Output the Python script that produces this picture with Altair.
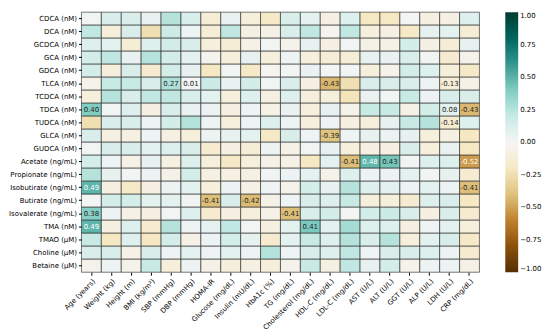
import altair as alt
import pandas as pd

rows = ["CDCA (nM)", "DCA (nM)", "GCDCA (nM)", "GCA (nM)", "GDCA (nM)", "TLCA (nM)",
        "TCDCA (nM)", "TDCA (nM)", "TUDCA (nM)", "GLCA (nM)", "GUDCA (nM)",
        "Acetate (ng/mL)", "Propionate (ng/mL)", "Isobutirate (ng/mL)", "Butirate (ng/mL)",
        "Isovalerate (ng/mL)", "TMA (nM)", "TMAO (μM)", "Choline (μM)", "Betaine (μM)"]
cols = ["Age (years)", "Weight (kg)", "Height (m)", "BMI (kg/m²)", "SBP (mmHg)", "DBP (mmHg)",
        "HOMA-IR", "Glucose (mg/dL)", "Insulin (mU/dL)", "HbA1c (%)", "TG (mg/dL)",
        "Cholesterol (mg/dL)", "HDL-C (mg/dL)", "LDL-C (mg/dL)", "AST (U/L)", "ALT (U/L)",
        "GGT (U/L)", "ALP (U/L)", "LDH (U/L)", "CRP (mg/dL)"]

cdca = [0.02, 0.12, 0.12, 0.05, 0.25, 0.12, -0.12, 0.05, -0.10, -0.18, 0.12, 0.07, -0.08, 0.10, -0.20, -0.20, 0.01, -0.08, -0.08, 0.10]
dca = [0.22, -0.10, 0.12, -0.25, 0.18, 0.03, -0.12, 0.22, -0.08, -0.06, 0.12, 0.22, -0.03, 0.22, -0.10, -0.08, -0.18, 0.06, 0.08, -0.12]
gcdca = [0.10, 0.08, -0.12, 0.10, 0.15, 0.12, -0.10, -0.12, -0.06, 0.02, -0.05, 0.06, -0.08, 0.02, -0.06, -0.06, 0.15, -0.07, -0.12, 0.06]
gca = [0.15, 0.22, 0.05, 0.25, 0.15, 0.08, -0.03, -0.10, 0.06, -0.10, 0.03, -0.10, -0.12, -0.12, 0.06, 0.05, 0.12, 0.02, -0.15, -0.05]
gdca = [0.15, -0.10, 0.12, -0.15, 0.15, 0.06, -0.20, 0.02, -0.18, -0.02, 0.02, 0.05, 0.02, 0.02, -0.10, -0.05, 0.15, 0.10, -0.10, -0.18]
tlca = [-0.05, 0.20, 0.20, 0.12, 0.27, 0.01, 0.18, 0.05, 0.15, 0.02, 0.12, -0.08, -0.43, -0.25, 0.12, 0.12, 0.12, 0.04, -0.13, -0.06]
tcdca = [-0.10, 0.25, 0.12, 0.22, 0.22, 0.12, 0.08, -0.10, 0.10, -0.08, 0.10, -0.10, -0.10, -0.22, 0.05, 0.02, 0.20, 0.04, 0.12, 0.12]
tdca = [0.40, 0.02, 0.10, -0.08, 0.12, 0.05, 0.04, -0.08, 0.03, -0.06, 0.05, -0.10, 0.06, -0.05, 0.20, 0.20, -0.06, 0.15, 0.08, -0.43]
tudca = [-0.25, 0.12, 0.12, 0.04, 0.15, 0.25, 0.03, -0.10, 0.03, 0.10, 0.03, -0.10, 0.03, -0.08, -0.10, 0.06, 0.20, 0.25, -0.14, 0.10]
glca = [0.12, -0.08, -0.08, 0.03, -0.08, -0.10, 0.04, 0.06, 0.08, -0.18, 0.12, 0.03, -0.39, 0.03, 0.06, 0.04, 0.06, -0.10, -0.08, -0.20]
gudca = [0.02, 0.12, 0.12, 0.08, 0.10, 0.12, -0.15, -0.08, -0.12, 0.04, -0.06, 0.02, 0.06, -0.10, -0.08, -0.08, 0.12, -0.10, 0.05, -0.20]
acetate = [0.15, 0.03, -0.06, 0.06, -0.08, 0.10, -0.10, -0.18, -0.10, -0.06, -0.06, -0.20, 0.08, -0.41, 0.48, 0.43, 0.02, 0.10, 0.10, -0.52]
propionate = [0.25, 0.06, 0.02, 0.04, -0.06, 0.15, -0.08, -0.08, -0.08, 0.02, 0.04, 0.08, -0.05, 0.10, 0.04, 0.04, 0.08, 0.02, 0.06, -0.15]
isobutirate = [0.49, -0.08, -0.18, -0.08, 0.04, 0.08, -0.10, 0.04, -0.06, 0.03, -0.05, 0.15, 0.06, 0.25, 0.10, 0.08, 0.04, 0.08, 0.04, -0.41]
butirate = [0.01, 0.15, 0.15, 0.08, 0.08, 0.02, -0.41, 0.12, -0.42, -0.06, 0.03, 0.12, 0.10, 0.20, -0.10, -0.10, -0.15, 0.10, 0.12, -0.20]
isovalerate = [0.38, 0.04, -0.06, -0.08, 0.02, 0.10, -0.15, -0.08, -0.10, -0.06, -0.41, 0.12, 0.15, 0.01, 0.15, 0.18, 0.12, -0.08, 0.12, -0.15]
tma = [0.49, -0.08, 0.10, -0.15, 0.25, 0.03, 0.06, 0.22, 0.02, -0.08, 0.08, 0.41, 0.08, 0.30, 0.10, 0.10, -0.08, 0.03, 0.08, -0.10]
tmao = [0.20, -0.20, 0.10, -0.20, 0.15, -0.06, 0.04, 0.15, 0.06, -0.15, 0.08, 0.20, 0.10, 0.25, 0.12, 0.25, -0.10, 0.08, 0.12, -0.18]
choline = [0.12, 0.12, -0.06, 0.12, 0.03, 0.08, 0.03, 0.08, 0.03, 0.25, 0.03, 0.12, 0.10, 0.22, 0.03, 0.12, 0.12, 0.10, 0.04, -0.15]
betaine = [-0.04, 0.04, -0.05, 0.20, -0.10, 0.04, -0.06, -0.10, -0.08, -0.10, -0.04, 0.20, -0.08, 0.22, 0.06, 0.15, -0.05, 0.04, 0.04, -0.06]

matrix = [cdca, dca, gcdca, gca, gdca, tlca, tcdca, tdca, tudca, glca, gudca,
          acetate, propionate, isobutirate, butirate, isovalerate, tma, tmao, choline, betaine]

# annotated (significant) cells: (row, column, text)
annotations = [
    ("TLCA (nM)", "SBP (mmHg)", "0.27"), ("TLCA (nM)", "DBP (mmHg)", "0.01"),
    ("TLCA (nM)", "HDL-C (mg/dL)", "-0.43"), ("TLCA (nM)", "LDH (U/L)", "-0.13"),
    ("TDCA (nM)", "Age (years)", "0.40"), ("TDCA (nM)", "LDH (U/L)", "0.08"),
    ("TDCA (nM)", "CRP (mg/dL)", "-0.43"), ("TUDCA (nM)", "LDH (U/L)", "-0.14"),
    ("GLCA (nM)", "HDL-C (mg/dL)", "-0.39"),
    ("Acetate (ng/mL)", "LDL-C (mg/dL)", "-0.41"), ("Acetate (ng/mL)", "AST (U/L)", "0.48"),
    ("Acetate (ng/mL)", "ALT (U/L)", "0.43"), ("Acetate (ng/mL)", "CRP (mg/dL)", "-0.52"),
    ("Isobutirate (ng/mL)", "Age (years)", "0.49"), ("Isobutirate (ng/mL)", "CRP (mg/dL)", "-0.41"),
    ("Butirate (ng/mL)", "HOMA-IR", "-0.41"), ("Butirate (ng/mL)", "Insulin (mU/dL)", "-0.42"),
    ("Isovalerate (ng/mL)", "Age (years)", "0.38"), ("Isovalerate (ng/mL)", "TG (mg/dL)", "-0.41"),
    ("TMA (nM)", "Age (years)", "0.49"), ("TMA (nM)", "Cholesterol (mg/dL)", "0.41"),
]
ann = {(r, c): t for r, c, t in annotations}

# BrBG colour stops (as in matplotlib), spread evenly over -1..1
brbg = ["#543005", "#8c510a", "#bf812d", "#dfc27d", "#f6e8c3", "#f5f5f5",
        "#c7eae5", "#80cdc1", "#35978f", "#01665e", "#003c30"]
stops = [-1.0, -0.8, -0.6, -0.4, -0.2, 0.0, 0.2, 0.4, 0.6, 0.8, 1.0]

records = []
for rname, vals in zip(rows, matrix):
    for cname, v in zip(cols, vals):
        records.append({"row": rname, "col": cname, "r": v, "label": ann.get((rname, cname), "")})
df = pd.DataFrame(records)

base = alt.Chart(df).encode(
    x=alt.X("col:N", sort=cols, title=None,
            axis=alt.Axis(labelAngle=-45, labelAlign="right", labelBaseline="top",
                          labelFontSize=7, tickSize=3, domain=False, labelPadding=2,
                          labelColor="#000", tickColor="#000")),
    y=alt.Y("row:N", sort=rows, title=None,
            axis=alt.Axis(labelFontSize=7, tickSize=3, domain=False, labelPadding=2,
                          labelColor="#000", tickColor="#000")),
)

heat = base.mark_rect(stroke="#222222", strokeWidth=0.6).encode(
    color=alt.Color("r:Q",
                    scale=alt.Scale(domain=stops, range=brbg, interpolate="rgb"),
                    legend=alt.Legend(title=None, gradientLength=262, gradientThickness=13,
                                      values=[-1, -0.75, -0.5, -0.25, 0, 0.25, 0.5, 0.75, 1],
                                      format=".2f", labelFontSize=7, offset=26,
                                      direction="vertical", labelColor="#000",
                                      labelFont="DejaVu Sans"))
)

text = base.mark_text(fontSize=7, font="DejaVu Sans").encode(
    text="label:N",
    color=alt.condition("abs(datum.r) >= 0.45", alt.value("white"), alt.value("#262626")),
)

chart = (heat + text).properties(
    width=401, height=262,
    padding={"left": 0, "top": 2, "right": 0, "bottom": 0},
).configure_view(stroke=None).configure_axis(labelFont="DejaVu Sans", grid=False)

chart.save("out.html", embed_options={"renderer": "svg", "actions": False})
